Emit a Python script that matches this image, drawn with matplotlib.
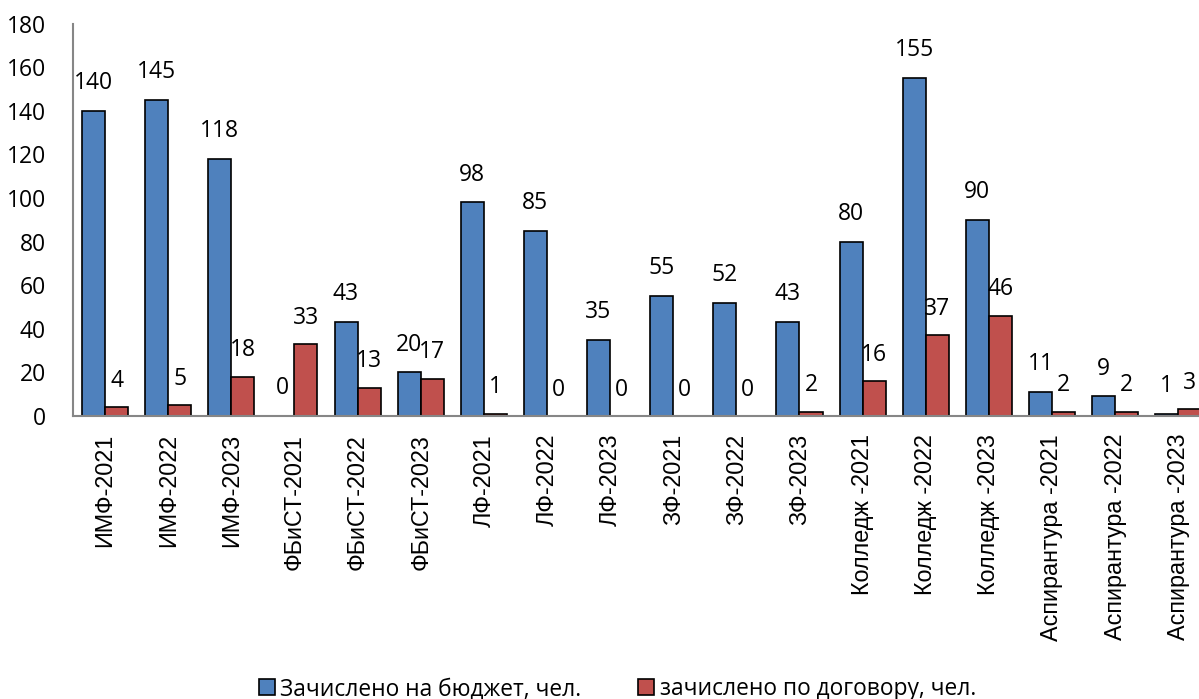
import matplotlib.pyplot as plt
import numpy as np

plt.rcParams['font.family'] = ['Open Sans', 'DejaVu Sans']

categories = ['ИМФ-2021', 'ИМФ-2022', 'ИМФ-2023',
              'ФБиСТ-2021', 'ФБиСТ-2022', 'ФБиСТ-2023',
              'ЛФ-2021', 'ЛФ-2022', 'ЛФ-2023',
              'ЗФ-2021', 'ЗФ-2022', 'ЗФ-2023',
              'Колледж -2021', 'Колледж -2022', 'Колледж -2023',
              'Аспирантура -2021', 'Аспирантура -2022', 'Аспирантура -2023']
budget = [140, 145, 118, 0, 43, 20, 98, 85, 35, 55, 52, 43, 80, 155, 90, 11, 9, 1]
contract = [4, 5, 18, 33, 13, 17, 1, 0, 0, 0, 0, 2, 16, 37, 46, 2, 2, 3]

fig = plt.figure(figsize=(11.99, 6.99), dpi=100)
ax = fig.add_axes([0.0613, 0.405, 0.9477, 0.561])

x = np.arange(len(categories))
w = 0.365
b1 = ax.bar(x - w/2, budget, w, color='#4F81BD', edgecolor='black', lw=1.2,
            label='Зачислено на бюджет, чел.')
b2 = ax.bar(x + w/2, contract, w, color='#C0504D', edgecolor='black', lw=1.2,
            label='зачислено по договору, чел.')

for xi, v in zip(x - w/2, budget):
    ax.annotate(str(v), (xi, v), xytext=(0, 20), textcoords='offset points',
                ha='center', va='center', fontsize=16.5)
for xi, v in zip(x + w/2, contract):
    ax.annotate(str(v), (xi, v), xytext=(0, 19), textcoords='offset points',
                ha='center', va='center', fontsize=16.5)

ax.set_xlim(-0.5, len(categories) - 0.5)
ax.set_ylim(0, 180)
ax.set_yticks(range(0, 181, 20))
ax.set_xticks(x)
ax.set_xticklabels(categories, rotation=90, fontsize=16.8,
                   family=['Liberation Sans', 'DejaVu Sans'])
ax.tick_params(axis='y', labelsize=16.5, length=0, pad=20)
ax.tick_params(axis='x', length=0, pad=13)
for s in ['top', 'right']:
    ax.spines[s].set_visible(False)
for s in ['left', 'bottom']:
    ax.spines[s].set_color('#868686')
    ax.spines[s].set_linewidth(1.5)

fig.legend(handles=[b1, b2], loc='center', bbox_to_anchor=(0.515, 0.014),
           ncol=2, frameon=False, fontsize=16.4, handlelength=0.7,
           handleheight=0.7, handletextpad=0.25, columnspacing=2.5,
           borderaxespad=0)

fig.savefig('out.png', dpi=100)
